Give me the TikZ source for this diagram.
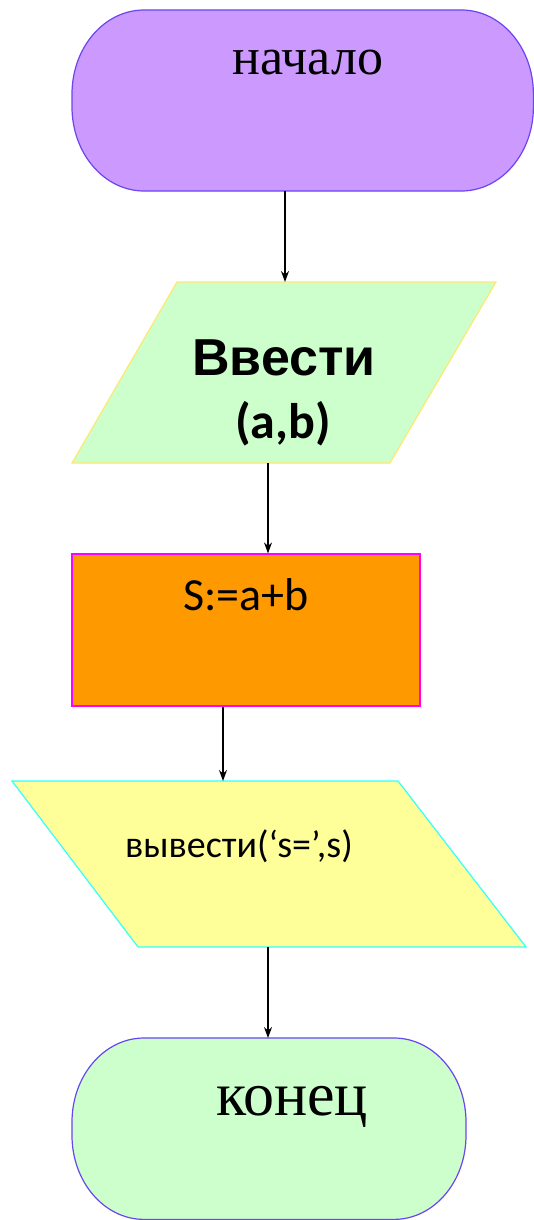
\documentclass[tikz,border=0pt]{standalone}
\usepackage{fontspec}
\setmainfont{Liberation Serif}
\newfontfamily\arialfont{Liberation Sans}
\newfontfamily\calfont{Carlito}
\usetikzlibrary{arrows.meta}
\definecolor{lilac}{HTML}{CC99FF}
\definecolor{violetline}{HTML}{6A45F0}
\definecolor{mint}{HTML}{CCFFCC}
\definecolor{yellowline}{HTML}{FFE870}
\definecolor{orangefill}{HTML}{FF9900}
\definecolor{magentaline}{HTML}{FF00FF}
\definecolor{paleyellow}{HTML}{FFFF99}
\definecolor{cyanline}{HTML}{33FFFF}
\tikzset{
  flow/.style={draw=black, line width=1.1pt, -{Stealth[length=11pt,width=8pt]}},
  term/.style={line width=1.2pt},
  io/.style={line width=1.2pt},
  txt/.style={inner sep=0pt, anchor=base}
}
% terminator: #1 left, #2 top, #3 right, #4 bottom ; corner radii 72 x 84
\newcommand{\termpath}[4]{(#1+72,#2) -- (#3-72,#2)
  arc[start angle=90, end angle=0, x radius=72, y radius=-84] -- (#3,#4-84)
  arc[start angle=0, end angle=-90, x radius=72, y radius=-84] -- (#1+72,#4)
  arc[start angle=270, end angle=180, x radius=72, y radius=-84] -- (#1,#2+84)
  arc[start angle=180, end angle=90, x radius=72, y radius=-84] -- cycle}
\begin{document}
\begin{tikzpicture}[x=1pt,y=-1pt]
\useasboundingbox (0,0) rectangle (534,1220);
% start
\path[term, fill=lilac, draw=violetline] \termpath{72}{10}{533.4}{191};
\node[txt] (tstart) at (308,75) {\fontsize{52}{60}\selectfont начало};
\coordinate (startb) at (285,191);
% input
\path[io, fill=mint, draw=yellowline] (177,282) -- (496,282) -- (390,463) -- (72,463) -- cycle;
\node[txt] (tin1) at (284,375) {\arialfont\bfseries\fontsize{52}{60}\selectfont Ввести};
\node[txt] (tin2) at (283,438) {\calfont\bfseries\fontsize{50}{56}\selectfont (a,b)};
\coordinate (int) at (285,282);
\coordinate (inb) at (268,463);
% process
\node[draw=magentaline, fill=orangefill, line width=1.2pt, minimum width=348pt, minimum height=152pt, inner sep=0pt] (proc) at (246,630) {};
\node[txt] (tproc) at (246,610) {\calfont\fontsize{46}{52}\selectfont S:=a+b};
\coordinate (procb) at (223,706);
% output
\path[io, fill=paleyellow, draw=cyanline] (12,781) -- (398,781) -- (526,947) -- (138,947) -- cycle;
\node[txt] (tout) at (239,857) {\calfont\fontsize{38}{44}\selectfont вывести(‘s=’,s)};
\coordinate (outt) at (223,781);
\coordinate (outb) at (268,947);
% end
\path[term, fill=mint, draw=violetline] \termpath{72}{1038}{466}{1219.4};
\node[txt] (tend) at (292,1115) {\fontsize{62}{70}\selectfont конец};
\coordinate (endt) at (268,1038);
% connectors
\draw[flow] (startb) -- (int);
\draw[flow] (inb) -- (inb |- proc.north);
\draw[flow] (procb |- proc.south) -- (outt);
\draw[flow] (outb) -- (endt);
\end{tikzpicture}
\end{document}
